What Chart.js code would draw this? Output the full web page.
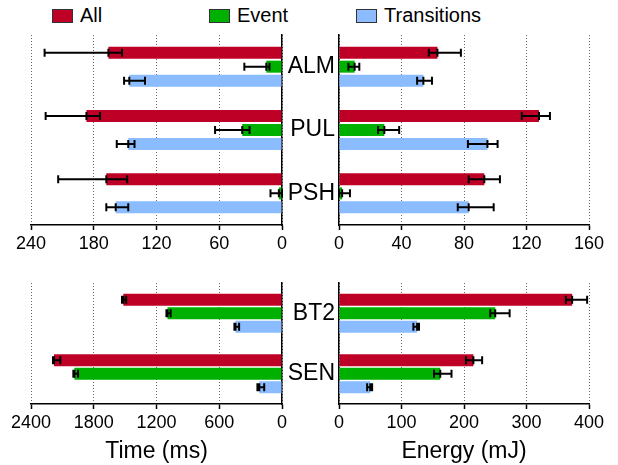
<!DOCTYPE html>
<html>
<head>
<meta charset="utf-8">
<script src="https://cdn.jsdelivr.net/npm/chart.js"></script>
<style>
  body { margin: 0; background: #fff; }
  #wrap { position: relative; width: 618px; height: 465px; font-family: "Liberation Sans", Arial, sans-serif; }
  canvas { position: absolute; }
  .leg { position: absolute; top: 3px; font-size: 20px; line-height: 24px; color: #000; }
  .leg span { display: inline-block; width: 19px; height: 12px; border: 1px solid #333; vertical-align: -1px; margin-right: 7px; }
</style>
</head>
<body>
<div id="wrap">
  <div class="leg" style="left:52px"><span style="background:#be0026"></span>All</div>
  <div class="leg" style="left:209px"><span style="background:#00b000"></span>Event</div>
  <div class="leg" style="left:356px"><span style="background:#8abcff"></span>Transitions</div>
  <canvas id="tl" width="300" height="260" style="left:0;top:0"></canvas>
  <canvas id="tr" width="334" height="260" style="left:284px;top:0"></canvas>
  <canvas id="bl" width="300" height="205" style="left:0;top:260px"></canvas>
  <canvas id="br" width="334" height="205" style="left:284px;top:260px"></canvas>
</div>
<script>
const seriesNames = ["All", "Event", "Transitions"];
const colors = ["#be0026", "#00b000", "#8abcff"];

const topApps = ["ALM", "PUL", "PSH"];
const bottomApps = ["BT2", "SEN"];

// time (ms), top group
const topTime = [[166, 187, 168], [15, 38, 3], [146, 147, 159]];
const topTimeLo = [[153, 174, 148], [12, 31, 0], [131, 141, 147]];
const topTimeHi = [[227, 226, 214], [36, 64, 11], [151, 158, 168]];
// energy (mJ), top group
const topEnergy = [[63, 128, 93], [10, 29, 2], [54, 95, 83]];
const topEnergyLo = [[57.5, 117, 83], [6, 25, 0], [50, 82.5, 76]];
const topEnergyHi = [[78, 135, 103], [13, 38.5, 7], [59.5, 101.5, 99]];
// time (ms), bottom group
const botTime = [[1517, 2180], [1095, 1985], [445, 217]];
const botTimeLo = [[1490, 2120], [1065, 1950], [410, 170]];
const botTimeHi = [[1530, 2190], [1105, 1995], [455, 235]];
// energy (mJ), bottom group
const botEnergy = [[373, 215], [250, 162], [125, 50]];
const botEnergyLo = [[363, 203], [242, 152], [119, 45]];
const botEnergyHi = [[397, 229], [273, 180], [128, 53]];

const errorBars = {
  id: "errorBars",
  afterDatasetsDraw(chart, args, opts) {
    const ctx = chart.ctx;
    const xs = chart.scales.x;
    ctx.save();
    ctx.strokeStyle = "#000";
    ctx.lineWidth = 2;
    chart.data.datasets.forEach((ds, di) => {
      const meta = chart.getDatasetMeta(di);
      meta.data.forEach((bar, i) => {
        const y = bar.y;
        const a = xs.getPixelForValue(opts.lo[di][i]);
        const b = xs.getPixelForValue(opts.hi[di][i]);
        const m = xs.getPixelForValue(ds.data[i]);
        ctx.beginPath();
        ctx.moveTo(a, y); ctx.lineTo(b, y);
        [a, b, m].forEach(px => { ctx.moveTo(px, y - 4); ctx.lineTo(px, y + 4); });
        ctx.stroke();
      });
    });
    ctx.restore();
  }
};

function makeChart(id, labels, values, lo, hi, opt) {
  const left = opt.left;
  new Chart(document.getElementById(id), {
    type: "bar",
    data: {
      labels: labels,
      datasets: seriesNames.map((n, k) => ({
        label: n,
        data: values[k],
        backgroundColor: colors[k],
        borderWidth: 0,
        categoryPercentage: opt.cat,
        barPercentage: opt.bar
      }))
    },
    options: {
      indexAxis: "y",
      responsive: false,
      animation: false,
      layout: { padding: opt.padding },
      plugins: { legend: { display: false }, tooltip: { enabled: false }, errorBars: { lo: lo, hi: hi } },
      scales: {
        x: {
          min: 0, max: opt.max, reverse: left,
          afterFit: s => { s.height = opt.axisH; },
          afterBuildTicks: s => { s.ticks = opt.ticks.map(v => ({ value: v })); },
          ticks: { color: "#000", font: { size: 18, family: "Liberation Sans" }, padding: 3, maxRotation: 0, callback: v => String(v) },
          grid: { color: "#666", lineWidth: 1, tickLength: 5, tickColor: "#000", tickWidth: 1.5 },
          border: { color: "#000", width: 1.5, dash: [1, 2] },
          title: opt.title ? { display: true, text: opt.title, color: "#000", font: { size: 23, family: "Liberation Sans" }, padding: 0 } : { display: false }
        },
        y: {
          position: left ? "right" : "left",
          afterFit: s => { s.width = left ? 0 : 55; },
          ticks: { display: !left, color: "#000", font: { size: 23, family: "Liberation Sans" }, padding: 4 },
          grid: { display: false, drawTicks: false },
          border: { color: "#000", width: 1.5 }
        }
      }
    },
    plugins: [errorBars]
  });
}

makeChart("tl", topApps, topTime, topTimeLo, topTimeHi,
  { left: true, max: 240, ticks: [0, 60, 120, 180, 240], padding: { left: 31, right: 18, top: 35, bottom: 0 }, axisH: 35, cat: 0.663, bar: 0.857 });
makeChart("tr", topApps, topEnergy, topEnergyLo, topEnergyHi,
  { left: false, max: 160, ticks: [0, 40, 80, 120, 160], padding: { left: 0, right: 29, top: 35, bottom: 0 }, axisH: 35, cat: 0.663, bar: 0.857 });
makeChart("bl", bottomApps, botTime, botTimeLo, botTimeHi,
  { left: true, max: 2400, ticks: [0, 600, 1200, 1800, 2400], padding: { left: 31, right: 18, top: 23, bottom: 0 }, axisH: 61, cat: 0.67, bar: 0.89, title: "Time (ms)" });
makeChart("br", bottomApps, botEnergy, botEnergyLo, botEnergyHi,
  { left: false, max: 400, ticks: [0, 100, 200, 300, 400], padding: { left: 0, right: 29, top: 23, bottom: 0 }, axisH: 61, cat: 0.67, bar: 0.89, title: "Energy (mJ)" });
</script>
</body>
</html>
